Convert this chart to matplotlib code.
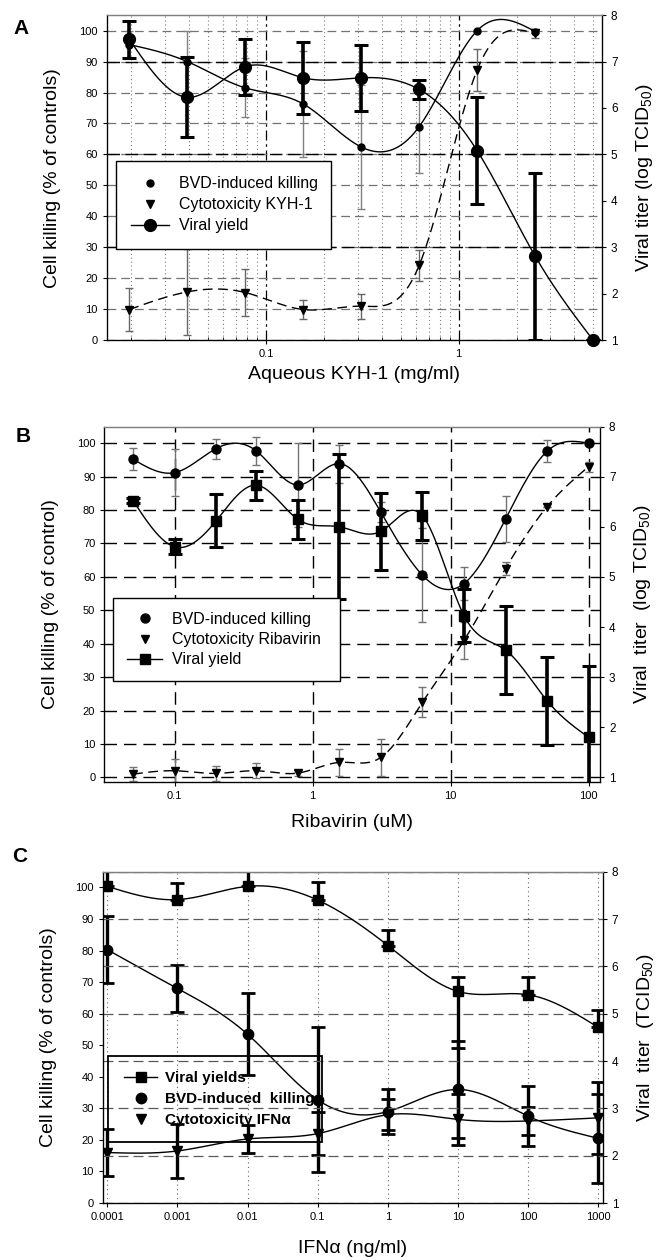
import numpy as np
import matplotlib
matplotlib.use('Agg')
import matplotlib.pyplot as pp
import matplotlib.lines as mlines
from matplotlib.ticker import NullFormatter

pp.rcParams['font.family'] = ['Liberation Sans', 'DejaVu Sans']
pp.rcParams['mathtext.fontset'] = 'custom'
pp.rcParams['mathtext.rm'] = 'Liberation Sans'

# ---------------- panel A : aqueous KYH-1 ----------------
conc_a = [0.01953, 0.03906, 0.07813, 0.15625, 0.3125, 0.625, 1.25, 2.5, 5.0]
bvd_a = [95.5, 90.0, 81.5, 76.3, 62.4, 69.0, 100.0, 99.7]
bvd_a_err = [4.5, 10.0, 9.5, 17.0, 20.0, 15.0, 0.0, 0.5]
cyto_a = [9.9, 15.6, 15.4, 9.9, 11.0, 24.2, 87.3, 99.1]
cyto_a_err = [7.0, 14.0, 7.5, 3.0, 4.0, 5.0, 6.7, 1.5]
viral_a = [7.48, 6.23, 6.89, 6.65, 6.65, 6.40, 5.08, 2.81, 1.00]
viral_a_err = [0.40, 0.86, 0.60, 0.78, 0.71, 0.20, 1.15, 1.80, 0.0]

# ---------------- panel B : ribavirin ----------------
conc_b = [0.05, 0.1, 0.2, 0.39, 0.78, 1.56, 3.125, 6.25, 12.5, 25, 50, 100]
bvd_b = [95.2, 91.2, 98.4, 97.7, 87.5, 93.9, 79.3, 60.5, 58.0, 77.3, 97.6, 100.0]
bvd_b_err = [3.3, 7.0, 3.0, 4.3, 12.5, 5.7, 3.0, 14.0, 5.0, 6.8, 3.3, 0.5]
cyto_b = [1.0, 2.0, 1.2, 2.0, 1.3, 4.5, 6.0, 22.5, 41.0, 62.5, 81.0, 93.0]
cyto_b_err = [2.0, 3.5, 2.3, 2.2, 1.0, 4.0, 5.5, 4.5, 5.5, 2.0, 0.0, 1.5]
viral_b = [6.52, 5.60, 6.12, 6.83, 6.15, 6.00, 5.91, 6.22, 4.23, 3.54, 2.53, 1.80]
viral_b_err = [0.05, 0.15, 0.53, 0.29, 0.39, 1.45, 0.77, 0.48, 0.53, 0.88, 0.88, 1.43]

# ---------------- panel C : IFN alpha ----------------
conc_c = [0.0001, 0.001, 0.01, 0.1, 1, 10, 100, 1000]
conc_c_labels = ['0.0001', '0.001', '0.01', '0.1', '1', '10', '100', '1000']
viral_c = [7.69, 7.41, 7.69, 7.40, 6.44, 5.47, 5.40, 4.71]
viral_c_up = [0.40, 0.36, 0.40, 0.38, 0.33, 0.30, 0.38, 0.37]
viral_c_lo = [0.0, 0.0, 0.0, 0.0, 0.0, 1.20, 0.0, 0.0]
bvd_c = [80.3, 68.0, 53.5, 32.7, 29.0, 36.0, 27.5, 20.5]
bvd_c_err = [10.6, 7.5, 13.0, 23.0, 7.0, 15.5, 9.5, 14.0]
cyto_c = [16.0, 16.5, 20.3, 22.0, 28.0, 26.5, 26.0, 27.0]
cyto_c_err = [7.5, 8.5, 4.5, 6.7, 5.0, 8.0, 4.5, 11.5]


def spline_curve(x, y, n=400):
    # natural cubic spline in log10(x)
    t = np.log10(np.asarray(x, float))
    y = np.asarray(y, float)
    m = len(t)
    h = np.diff(t)
    A = np.zeros((m, m))
    b = np.zeros(m)
    A[0, 0] = 1
    A[-1, -1] = 1
    for i in range(1, m - 1):
        A[i, i - 1] = h[i - 1]
        A[i, i] = 2 * (h[i - 1] + h[i])
        A[i, i + 1] = h[i]
        b[i] = 6 * ((y[i + 1] - y[i]) / h[i] - (y[i] - y[i - 1]) / h[i - 1])
    M = np.linalg.solve(A, b)
    tt = np.linspace(t[0], t[-1], n)
    idx = np.clip(np.searchsorted(t, tt) - 1, 0, m - 2)
    t0, t1 = t[idx], t[idx + 1]
    hh = t1 - t0
    a = (t1 - tt) / hh
    bb = (tt - t0) / hh
    yy = a * y[idx] + bb * y[idx + 1] + ((a**3 - a) * M[idx] + (bb**3 - bb) * M[idx + 1]) * hh**2 / 6
    return 10**tt, yy


def setup_axes(ax, ax2, xlim):
    ax.set_xscale('log')
    ax.set_xlim(*xlim)
    ax.set_ylim(0, 105)
    ax2.set_ylim(1, 8)
    ax.set_yticks(np.arange(0, 101, 10))
    ax2.set_yticks(np.arange(1, 9, 1))
    ax.tick_params(axis='y', labelsize=8, direction='out', length=3, width=0.8)
    ax2.tick_params(axis='y', labelsize=8.5, direction='out', length=3, width=0.8)
    ax.tick_params(axis='x', labelsize=8, direction='out', length=3, width=0.8)
    ax.tick_params(axis='x', which='minor', direction='in', length=2, width=0.6)
    ax.xaxis.set_minor_formatter(NullFormatter())
    ax.set_axisbelow(True)
    for sp in ax2.spines.values():
        sp.set_linewidth(0.9)
    ax2.spines['top'].set_color('0.5')


fig = pp.figure(figsize=(6.6, 12.6), dpi=100)

# ================= A =================
ax = fig.add_axes([0.162, 0.730, 0.750, 0.258])
ax2 = ax.twinx()
setup_axes(ax, ax2, (10**-1.8255, 10**0.7445))
ax.set_xticks([0.1, 1])
ax.set_xticklabels(['0.1', '1'])
ax.yaxis.grid(True, linestyle=(0, (7, 4)), color='0.45', lw=0.9)
ax.xaxis.grid(True, which='major', linestyle=(0, (8, 3, 2, 3)), color='k', lw=0.9)
ax.xaxis.grid(True, which='minor', linestyle=(0, (1, 2.5)), color='0.5', lw=0.8)
for yl in (30, 60, 90):
    ax.axhline(yl, color='k', lw=1.0, ls=(0, (9, 4)), zorder=0.8)

ax.errorbar(conc_a[:8], bvd_a, yerr=bvd_a_err, fmt='none', ecolor='0.5', elinewidth=1.0, capsize=3, capthick=1.0)
ax.errorbar(conc_a[:8], cyto_a, yerr=cyto_a_err, fmt='none', ecolor='0.4', elinewidth=1.0, capsize=3, capthick=1.0)
xs, ys = spline_curve(conc_a[:8], bvd_a)
ax.plot(xs, ys, color='k', lw=1.0)
ax.plot(conc_a[:8], bvd_a, 'o', color='k', ms=5)
xs, ys = spline_curve(conc_a[:8], cyto_a)
ax.plot(xs, ys, color='k', lw=1.0, ls=(0, (7, 4)))
ax.plot(conc_a[:8], cyto_a, 'v', color='k', ms=6)

ax2.errorbar(conc_a, viral_a, yerr=viral_a_err, fmt='none', ecolor='k', elinewidth=2.6, capsize=5, capthick=2.2)
xs, ys = spline_curve(conc_a, viral_a)
ax2.plot(xs, ys, color='k', lw=1.0)
ax2.plot(conc_a, viral_a, 'o', color='k', ms=8.5, clip_on=False)

ax.set_ylabel('Cell killing (% of controls)', fontsize=14, labelpad=13)
ax2.set_ylabel('Viral titer (log TCID$_{50}$)', fontsize=14, labelpad=12)
ax.set_xlabel('Aqueous KYH-1 (mg/ml)', fontsize=14, labelpad=5)

handles = [
    mlines.Line2D([], [], ls='', marker='o', color='k', ms=5, label='BVD-induced killing'),
    mlines.Line2D([], [], ls='', marker='v', color='k', ms=6, label='Cytotoxicity KYH-1'),
    mlines.Line2D([], [], ls='-', lw=1.0, marker='o', color='k', ms=8.5, label='Viral yield'),
]
leg = ax2.legend(handles=handles, loc='upper left', bbox_to_anchor=(0.0176, 0.551, 0.4354, 0.0),
                 mode='expand', fontsize=11.5, frameon=True, fancybox=False, framealpha=1.0,
                 edgecolor='k', borderpad=0.95, labelspacing=0.38, handlelength=2.4,
                 handletextpad=0.6, borderaxespad=0)
leg.get_frame().set_linewidth(1.0)

# ================= B =================
ax = fig.add_axes([0.158, 0.379, 0.751, 0.2825])
ax2 = ax.twinx()
setup_axes(ax, ax2, (10**-1.51, 10**2.082))
ax.set_ylim(-1.5, 105)
ax2.set_ylim(0.9, 8)
ax.set_xticks([0.1, 1, 10, 100])
ax.set_xticklabels(['0.1', '1', '10', '100'])
ax.tick_params(axis='x', which='minor', length=0)
ax.yaxis.grid(True, linestyle=(0, (9, 5)), color='k', lw=1.0)
ax.xaxis.grid(True, which='major', linestyle=(0, (9, 5)), color='k', lw=1.0)

ax.errorbar(conc_b, bvd_b, yerr=bvd_b_err, fmt='none', ecolor='0.45', elinewidth=1.0, capsize=3, capthick=1.0)
ax.errorbar(conc_b, cyto_b, yerr=cyto_b_err, fmt='none', ecolor='0.45', elinewidth=1.0, capsize=3, capthick=1.0)
xs, ys = spline_curve(conc_b, bvd_b)
ax.plot(xs, ys, color='k', lw=1.0)
ax.plot(conc_b, bvd_b, 'o', color='k', ms=6.5)
xs, ys = spline_curve(conc_b, cyto_b)
ax.plot(xs, ys, color='k', lw=1.0, ls=(0, (7, 4)))
ax.plot(conc_b, cyto_b, 'v', color='k', ms=6)

ax2.errorbar(conc_b, viral_b, yerr=viral_b_err, fmt='none', ecolor='k', elinewidth=2.6, capsize=5, capthick=2.2)
xs, ys = spline_curve(conc_b, viral_b)
ax2.plot(xs, ys, color='k', lw=1.0)
ax2.plot(conc_b, viral_b, 's', color='k', ms=6.5)

ax.set_ylabel('Cell killing (% of control)', fontsize=14, labelpad=13)
ax2.set_ylabel('Viral  titer  (log TCID$_{50}$)', fontsize=14, labelpad=12)
ax.set_xlabel('Ribavirin (uM)', fontsize=14, labelpad=9)

handles = [
    mlines.Line2D([], [], ls='', marker='o', color='k', ms=6.5, label='BVD-induced killing'),
    mlines.Line2D([], [], ls='', marker='v', color='k', ms=6, label='Cytotoxicity Ribavirin'),
    mlines.Line2D([], [], ls='-', lw=1.0, marker='s', color='k', ms=6.5, label='Viral yield'),
]
leg = ax2.legend(handles=handles, loc='upper left', bbox_to_anchor=(0.0186, 0.517, 0.4571, 0.0),
                 mode='expand', fontsize=11.5, frameon=True, fancybox=False, framealpha=1.0,
                 edgecolor='k', borderpad=0.85, labelspacing=0.32, handlelength=2.2,
                 handletextpad=0.6, borderaxespad=0)
leg.get_frame().set_linewidth(1.0)

# ================= C =================
ax = fig.add_axes([0.156, 0.0452, 0.757, 0.263])
ax2 = ax.twinx()
setup_axes(ax, ax2, (10**-4.06, 10**3.06))
ax.set_xticks(conc_c)
ax.set_xticklabels(conc_c_labels)
ax.tick_params(axis='x', which='minor', length=0)
ax.xaxis.grid(True, which='major', linestyle=(0, (1, 3)), color='0.4', lw=0.8)
ax2.yaxis.grid(True, linestyle=(0, (8, 4)), color='0.35', lw=0.9)
ax2.set_axisbelow(True)

ax.errorbar(conc_c, bvd_c, yerr=bvd_c_err, fmt='none', ecolor='k', elinewidth=2.4, capsize=5, capthick=2.0)
ax.errorbar(conc_c, cyto_c, yerr=cyto_c_err, fmt='none', ecolor='k', elinewidth=2.4, capsize=5, capthick=2.0)
xs, ys = spline_curve(conc_c, bvd_c)
ax.plot(xs, ys, color='k', lw=1.0)
ax.plot(conc_c, bvd_c, 'o', color='k', ms=7.5)
xs, ys = spline_curve(conc_c, cyto_c)
ax.plot(xs, ys, color='k', lw=1.0)
ax.plot(conc_c, cyto_c, 'v', color='k', ms=7)

ax2.errorbar(conc_c, viral_c, yerr=[viral_c_lo, viral_c_up], fmt='none', ecolor='k', elinewidth=2.4,
             capsize=5, capthick=2.0)
xs, ys = spline_curve(conc_c, viral_c)
ax2.plot(xs, ys, color='k', lw=1.0)
ax2.plot(conc_c, viral_c, 's', color='k', ms=6.5)

ax.set_ylabel('Cell killing (% of controls)', fontsize=14, labelpad=13)
ax2.set_ylabel('Viral  titer  (TCID$_{50}$)', fontsize=14, labelpad=12)
ax.set_xlabel(u'IFN\u03b1 (ng/ml)', fontsize=14, labelpad=13)

handles = [
    mlines.Line2D([], [], ls='-', lw=1.0, marker='s', color='k', ms=6.5, label='Viral yields'),
    mlines.Line2D([], [], ls='', marker='o', color='k', ms=7.5, label='BVD-induced  killing'),
    mlines.Line2D([], [], ls='', marker='v', color='k', ms=7, label=u'Cytotoxicity IFN\u03b1'),
]
leg = ax2.legend(handles=handles, loc='upper left', bbox_to_anchor=(0.011, 0.444, 0.427, 0.0),
                 mode='expand', prop={'size': 11, 'weight': 'bold'}, frameon=True, fancybox=False,
                 edgecolor='k', borderpad=1.0, labelspacing=0.45, handlelength=2.2,
                 handletextpad=0.5, borderaxespad=0)
leg.get_frame().set_facecolor('none')
leg.get_frame().set_alpha(1.0)
leg.get_frame().set_linewidth(1.3)

fig.text(21 / 660, 1 - 28 / 1260, 'A', fontsize=15, weight='bold', ha='center', va='center')
fig.text(23 / 660, 1 - 437 / 1260, 'B', fontsize=15, weight='bold', ha='center', va='center')
fig.text(20 / 660, 1 - 857 / 1260, 'C', fontsize=15, weight='bold', ha='center', va='center')

fig.savefig('out.png', dpi=100)
